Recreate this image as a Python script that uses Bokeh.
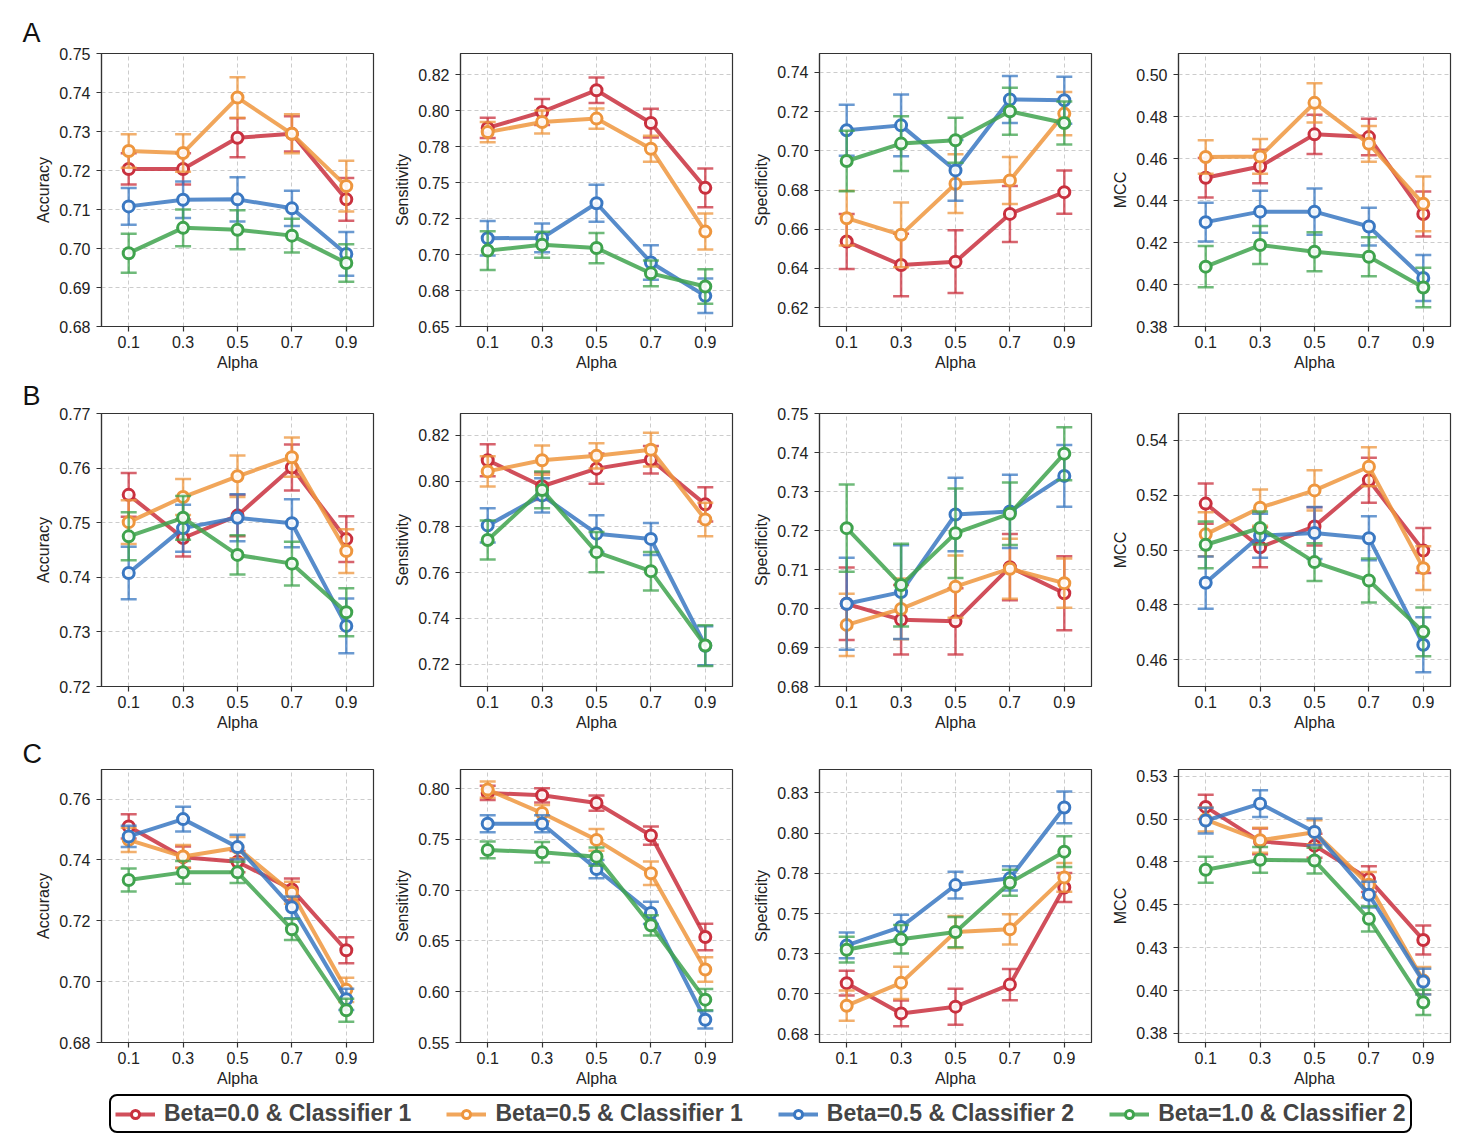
from bokeh.plotting import figure
from bokeh.layouts import gridplot, column
from bokeh.models import Range1d, FixedTicker, Legend, LegendItem
from bokeh.embed import file_html
from bokeh.resources import INLINE

ALPHA = [0.1, 0.3, 0.5, 0.7, 0.9]
ALPHA_LABELS = ["0.1", "0.3", "0.5", "0.7", "0.9"]
SERIES = ["Beta=0.0 & Classifier 1", "Beta=0.5 & Classifier 1",
          "Beta=0.5 & Classifier 2", "Beta=1.0 & Classifier 2"]
COLORS = ["#C9303E", "#EE963E", "#3A78C2", "#3FA34D"]
METRICS = ["Accuracy", "Sensitivity", "Specificity", "MCC"]
ROW_LETTERS = ["A", "B", "C"]

# ---- Row A ----  (series order: red, orange, blue, green)
A_ACC = [[0.7204, 0.7204, 0.7284, 0.7294, 0.7126],
         [0.7250, 0.7245, 0.7387, 0.7294, 0.7160],
         [0.7108, 0.7125, 0.7126, 0.7103, 0.6986],
         [0.6988, 0.7053, 0.7048, 0.7033, 0.6963]]
A_ACC_ERR = [[0.0040, 0.0040, 0.0050, 0.0045, 0.0055],
             [0.0043, 0.0048, 0.0052, 0.0050, 0.0065],
             [0.0047, 0.0047, 0.0057, 0.0045, 0.0056],
             [0.0050, 0.0047, 0.0050, 0.0043, 0.0048]]
A_SEN = [[0.7879, 0.7990, 0.8141, 0.7913, 0.7463],
         [0.7850, 0.7920, 0.7944, 0.7735, 0.7159],
         [0.7113, 0.7115, 0.7356, 0.6945, 0.6713],
         [0.7027, 0.7068, 0.7045, 0.6869, 0.6778]]
A_SEN_ERR = [[0.0070, 0.0090, 0.0088, 0.0100, 0.0135],
             [0.0070, 0.0080, 0.0070, 0.0090, 0.0125],
             [0.0120, 0.0100, 0.0128, 0.0120, 0.0120],
             [0.0135, 0.0090, 0.0105, 0.0090, 0.0120]]
A_SPE = [[0.6537, 0.6417, 0.6434, 0.6678, 0.6789],
         [0.6656, 0.6571, 0.6832, 0.6849, 0.7190],
         [0.7105, 0.7130, 0.6900, 0.7262, 0.7258],
         [0.6948, 0.7037, 0.7054, 0.7202, 0.7142]]
A_SPE_ERR = [[0.0140, 0.0160, 0.0160, 0.0143, 0.0110],
             [0.0140, 0.0165, 0.0150, 0.0120, 0.0110],
             [0.0130, 0.0158, 0.0155, 0.0120, 0.0120],
             [0.0155, 0.0140, 0.0115, 0.0120, 0.0110]]
A_MCC = [[0.4508, 0.4562, 0.4715, 0.4702, 0.4336],
         [0.4607, 0.4610, 0.4865, 0.4670, 0.4384],
         [0.4297, 0.4347, 0.4347, 0.4276, 0.4031],
         [0.4085, 0.4188, 0.4156, 0.4132, 0.3986]]
A_MCC_ERR = [[0.0094, 0.0080, 0.0093, 0.0087, 0.0107],
             [0.0080, 0.0083, 0.0093, 0.0085, 0.0130],
             [0.0092, 0.0100, 0.0110, 0.0090, 0.0110],
             [0.0098, 0.0090, 0.0093, 0.0093, 0.0094]]

# ---- Row B ----
B_ACC = [[0.7551, 0.7472, 0.7513, 0.7601, 0.7470],
         [0.7501, 0.7547, 0.7585, 0.7620, 0.7448],
         [0.7408, 0.7490, 0.7509, 0.7499, 0.7311],
         [0.7475, 0.7509, 0.7441, 0.7425, 0.7336]]
B_ACC_ERR = [[0.0040, 0.0034, 0.0038, 0.0042, 0.0042],
             [0.0040, 0.0033, 0.0038, 0.0036, 0.0040],
             [0.0048, 0.0043, 0.0043, 0.0044, 0.0050],
             [0.0044, 0.0040, 0.0036, 0.0040, 0.0044]]
B_SEN = [[0.8091, 0.7977, 0.8054, 0.8093, 0.7898],
         [0.8042, 0.8091, 0.8110, 0.8137, 0.7832],
         [0.7806, 0.7937, 0.7770, 0.7747, 0.7280],
         [0.7742, 0.7961, 0.7689, 0.7606, 0.7281]]
B_SEN_ERR = [[0.0070, 0.0060, 0.0066, 0.0060, 0.0075],
             [0.0066, 0.0064, 0.0055, 0.0074, 0.0073],
             [0.0075, 0.0075, 0.0080, 0.0070, 0.0085],
             [0.0085, 0.0080, 0.0088, 0.0084, 0.0089]]
B_SPE = [[0.7012, 0.6971, 0.6967, 0.7106, 0.7039],
         [0.6958, 0.6999, 0.7056, 0.7102, 0.7065],
         [0.7012, 0.7042, 0.7241, 0.7249, 0.7340],
         [0.7206, 0.7060, 0.7193, 0.7243, 0.7397]]
B_SPE_ERR = [[0.0093, 0.0089, 0.0085, 0.0085, 0.0095],
             [0.0080, 0.0078, 0.0080, 0.0077, 0.0063],
             [0.0118, 0.0120, 0.0094, 0.0094, 0.0079],
             [0.0112, 0.0106, 0.0115, 0.0080, 0.0068]]
B_MCC = [[0.5169, 0.5010, 0.5086, 0.5254, 0.4998],
         [0.5057, 0.5154, 0.5217, 0.5303, 0.4934],
         [0.4881, 0.5052, 0.5062, 0.5043, 0.4655],
         [0.5019, 0.5080, 0.4956, 0.4889, 0.4702]]
B_MCC_ERR = [[0.0073, 0.0073, 0.0070, 0.0082, 0.0082],
             [0.0080, 0.0066, 0.0073, 0.0071, 0.0080],
             [0.0095, 0.0080, 0.0095, 0.0080, 0.0100],
             [0.0085, 0.0060, 0.0069, 0.0080, 0.0089]]

# ---- Row C ----
C_ACC = [[0.7510, 0.7409, 0.7394, 0.7303, 0.7103],
         [0.7466, 0.7411, 0.7440, 0.7292, 0.6973],
         [0.7477, 0.7534, 0.7442, 0.7244, 0.6942],
         [0.7334, 0.7359, 0.7359, 0.7172, 0.6906]]
C_ACC_ERR = [[0.0040, 0.0035, 0.0035, 0.0036, 0.0043],
             [0.0040, 0.0038, 0.0035, 0.0036, 0.0040],
             [0.0035, 0.0041, 0.0041, 0.0036, 0.0035],
             [0.0038, 0.0037, 0.0035, 0.0035, 0.0038]]
C_SEN = [[0.7957, 0.7934, 0.7858, 0.7538, 0.6539],
         [0.7990, 0.7759, 0.7495, 0.7166, 0.6219],
         [0.7654, 0.7654, 0.7208, 0.6776, 0.5724],
         [0.7396, 0.7373, 0.7330, 0.6654, 0.5922]]
C_SEN_ERR = [[0.0070, 0.0070, 0.0075, 0.0090, 0.0130],
             [0.0080, 0.0080, 0.0107, 0.0115, 0.0120],
             [0.0083, 0.0083, 0.0090, 0.0110, 0.0087],
             [0.0083, 0.0100, 0.0090, 0.0100, 0.0104]]
C_SPE = [[0.7067, 0.6879, 0.6921, 0.7058, 0.7662],
         [0.6927, 0.7069, 0.7385, 0.7402, 0.7725],
         [0.7302, 0.7417, 0.7677, 0.7719, 0.8160],
         [0.7275, 0.7340, 0.7385, 0.7692, 0.7885]]
C_SPE_ERR = [[0.0077, 0.0080, 0.0112, 0.0097, 0.0090],
             [0.0094, 0.0100, 0.0100, 0.0094, 0.0090],
             [0.0080, 0.0076, 0.0083, 0.0076, 0.0099],
             [0.0080, 0.0089, 0.0094, 0.0081, 0.0096]]
C_MCC = [[0.5071, 0.4870, 0.4845, 0.4650, 0.4295],
         [0.4997, 0.4876, 0.4923, 0.4617, 0.4058],
         [0.4991, 0.5090, 0.4925, 0.4559, 0.4052],
         [0.4704, 0.4762, 0.4758, 0.4418, 0.3931]]
C_MCC_ERR = [[0.0071, 0.0075, 0.0070, 0.0075, 0.0085],
             [0.0070, 0.0073, 0.0070, 0.0075, 0.0080],
             [0.0075, 0.0078, 0.0078, 0.0075, 0.0075],
             [0.0076, 0.0075, 0.0075, 0.0073, 0.0073]]

# ---- y axes: ranges, ticks, tick labels ----
A_ACC_Y = (0.68, 0.75); A_ACC_T = [0.68, 0.69, 0.70, 0.71, 0.72, 0.73, 0.74, 0.75]
A_ACC_L = ["0.68", "0.69", "0.70", "0.71", "0.72", "0.73", "0.74", "0.75"]
A_SEN_Y = (0.65, 0.8396); A_SEN_T = [0.65, 0.675, 0.7, 0.725, 0.75, 0.775, 0.8, 0.825]
A_SEN_L = ["0.65", "0.68", "0.70", "0.72", "0.75", "0.78", "0.80", "0.82"]
A_SPE_Y = (0.6103, 0.7497); A_SPE_T = [0.62, 0.64, 0.66, 0.68, 0.70, 0.72, 0.74]
A_SPE_L = ["0.62", "0.64", "0.66", "0.68", "0.70", "0.72", "0.74"]
A_MCC_Y = (0.38, 0.51); A_MCC_T = [0.38, 0.40, 0.42, 0.44, 0.46, 0.48, 0.50]
A_MCC_L = ["0.38", "0.40", "0.42", "0.44", "0.46", "0.48", "0.50"]
B_ACC_Y = (0.72, 0.77); B_ACC_T = [0.72, 0.73, 0.74, 0.75, 0.76, 0.77]
B_ACC_L = ["0.72", "0.73", "0.74", "0.75", "0.76", "0.77"]
B_SEN_Y = (0.7102, 0.8295); B_SEN_T = [0.72, 0.74, 0.76, 0.78, 0.80, 0.82]
B_SEN_L = ["0.72", "0.74", "0.76", "0.78", "0.80", "0.82"]
B_SPE_Y = (0.68, 0.75); B_SPE_T = [0.68, 0.69, 0.70, 0.71, 0.72, 0.73, 0.74, 0.75]
B_SPE_L = ["0.68", "0.69", "0.70", "0.71", "0.72", "0.73", "0.74", "0.75"]
B_MCC_Y = (0.4503, 0.5497); B_MCC_T = [0.46, 0.48, 0.50, 0.52, 0.54]
B_MCC_L = ["0.46", "0.48", "0.50", "0.52", "0.54"]
C_ACC_Y = (0.68, 0.7697); C_ACC_T = [0.68, 0.70, 0.72, 0.74, 0.76]
C_ACC_L = ["0.68", "0.70", "0.72", "0.74", "0.76"]
C_SEN_Y = (0.55, 0.8188); C_SEN_T = [0.55, 0.60, 0.65, 0.70, 0.75, 0.80]
C_SEN_L = ["0.55", "0.60", "0.65", "0.70", "0.75", "0.80"]
C_SPE_Y = (0.6698, 0.8396); C_SPE_T = [0.675, 0.7, 0.725, 0.75, 0.775, 0.8, 0.825]
C_SPE_L = ["0.68", "0.70", "0.73", "0.75", "0.78", "0.80", "0.83"]
C_MCC_Y = (0.3697, 0.5289); C_MCC_T = [0.375, 0.4, 0.425, 0.45, 0.475, 0.5, 0.525]
C_MCC_L = ["0.38", "0.40", "0.43", "0.45", "0.48", "0.50", "0.53"]

PANELS = [
    [(A_ACC, A_ACC_ERR, A_ACC_Y, A_ACC_T, A_ACC_L), (A_SEN, A_SEN_ERR, A_SEN_Y, A_SEN_T, A_SEN_L),
     (A_SPE, A_SPE_ERR, A_SPE_Y, A_SPE_T, A_SPE_L), (A_MCC, A_MCC_ERR, A_MCC_Y, A_MCC_T, A_MCC_L)],
    [(B_ACC, B_ACC_ERR, B_ACC_Y, B_ACC_T, B_ACC_L), (B_SEN, B_SEN_ERR, B_SEN_Y, B_SEN_T, B_SEN_L),
     (B_SPE, B_SPE_ERR, B_SPE_Y, B_SPE_T, B_SPE_L), (B_MCC, B_MCC_ERR, B_MCC_Y, B_MCC_T, B_MCC_L)],
    [(C_ACC, C_ACC_ERR, C_ACC_Y, C_ACC_T, C_ACC_L), (C_SEN, C_SEN_ERR, C_SEN_Y, C_SEN_T, C_SEN_L),
     (C_SPE, C_SPE_ERR, C_SPE_Y, C_SPE_T, C_SPE_L), (C_MCC, C_MCC_ERR, C_MCC_Y, C_MCC_T, C_MCC_L)],
]

FONT = "Liberation Sans"
FRAME_W = 272
FRAME_H = 273
TOP = [53, 39, 35]
BOTTOM = [48, 48, 48]
TITLE_STANDOFF = [11, 6, 2]


def make_panel(r, c, means, errs, yr, yt, yl):
    p = figure(frame_width=FRAME_W, frame_height=FRAME_H,
               x_range=Range1d(0.0, 1.0), y_range=Range1d(yr[0], yr[1]),
               output_backend="svg", toolbar_location=None,
               min_border_left=101 if c == 0 else 85, min_border_right=2,
               min_border_top=TOP[r], min_border_bottom=BOTTOM[r])
    p.background_fill_color = "white"
    p.border_fill_color = "white"
    p.outline_line_color = "#333333"
    p.outline_line_width = 1.2

    p.xaxis.ticker = FixedTicker(ticks=ALPHA)
    p.xaxis.major_label_overrides = dict(zip(ALPHA, ALPHA_LABELS))
    p.yaxis.ticker = FixedTicker(ticks=yt)
    p.yaxis.major_label_overrides = dict(zip(yt, yl))
    p.xaxis.axis_label = "Alpha"
    p.yaxis.axis_label = METRICS[c]
    for ax in (p.xaxis[0], p.yaxis[0]):
        ax.axis_line_color = "#333333"
        ax.axis_line_width = 1.2
        ax.major_tick_line_color = "#333333"
        ax.major_tick_line_width = 1.2
        ax.major_tick_out = 5
        ax.major_tick_in = 0
        ax.minor_tick_line_color = None
        ax.major_label_text_font = FONT
        ax.major_label_text_font_size = "16px"
        ax.major_label_text_color = "#222222"
        ax.axis_label_text_font = FONT
        ax.axis_label_text_font_size = "16px"
        ax.axis_label_text_font_style = "normal"
        ax.axis_label_text_color = "#222222"
    p.xaxis.major_label_standoff = 4
    p.xaxis.axis_label_standoff = 3
    p.yaxis.major_label_standoff = 6
    p.yaxis.axis_label_standoff = 4

    for g in (p.xgrid[0], p.ygrid[0]):
        g.grid_line_color = "#cccccc"
        g.grid_line_dash = "4 3"
        g.grid_line_width = 1

    if c == 0:
        p.title.text = ROW_LETTERS[r]
        p.title.text_font = FONT
        p.title.text_font_size = "27px"
        p.title.text_font_style = "normal"
        p.title.text_color = "#111111"
        p.title.align = "left"
        p.title.offset = -79
        p.title.standoff = TITLE_STANDOFF[r]

    for i in range(4):
        col = COLORS[i]
        m = means[i]
        e = errs[i]
        lo = [a - b for a, b in zip(m, e)]
        hi = [a + b for a, b in zip(m, e)]
        p.segment(x0=ALPHA, y0=lo, x1=ALPHA, y1=hi, line_color=col,
                  line_width=2.5, line_alpha=0.75)
        p.scatter(ALPHA, lo, marker="dash", size=16, line_color=col,
                  line_width=2.5, line_alpha=0.75)
        p.scatter(ALPHA, hi, marker="dash", size=16, line_color=col,
                  line_width=2.5, line_alpha=0.75)
        p.line(ALPHA, m, line_color=col, line_width=4, line_alpha=0.85)
        p.scatter(ALPHA, m, marker="circle", size=11, fill_color="white",
                  fill_alpha=0.9, line_color=col, line_width=3)
    return p


grid_rows = []
for r in range(3):
    row = []
    for c in range(4):
        means, errs, yr, yt, yl = PANELS[r][c]
        row.append(make_panel(r, c, means, errs, yr, yt, yl))
    grid_rows.append(row)

grid = gridplot(grid_rows, toolbar_location=None)

TOTAL_W = 101 + FRAME_W + 2 + 3 * (85 + FRAME_W + 2)
# legend-only figure: its y range lies far away from the data so the
# dummy renderers themselves are never visible, only their legend glyphs
lf = figure(width=TOTAL_W, height=44, x_range=Range1d(0, 1), y_range=Range1d(10, 11),
            toolbar_location=None, output_backend="svg", min_border=0,
            outline_line_color=None)
lf.axis.visible = False
lf.grid.visible = False
items = []
for i in range(4):
    xs = ALPHA[:1]
    ys = A_ACC[i][:1]
    r1 = lf.line(xs, ys, line_color=COLORS[i], line_width=4, line_alpha=0.85)
    r2 = lf.scatter(xs, ys, marker="circle", size=11, fill_color="white",
                    line_color=COLORS[i], line_width=3)
    items.append(LegendItem(label=SERIES[i], renderers=[r1, r2]))
legend = Legend(items=items, orientation="horizontal", location=(109, 1),
                label_text_font=FONT, label_text_font_style="bold",
                label_text_font_size="23px", label_height=20,
                glyph_width=40, glyph_height=20, spacing=35, padding=4,
                label_standoff=9, margin=0,
                border_line_color="black", border_line_width=2,
                border_line_alpha=1.0,
                background_fill_color="white", background_fill_alpha=1.0)
if "border_radius" in Legend.properties():
    legend.border_radius = 8
lf.add_layout(legend)

layout = column(grid, lf)
open("out.html", "w").write(file_html(layout, INLINE))
